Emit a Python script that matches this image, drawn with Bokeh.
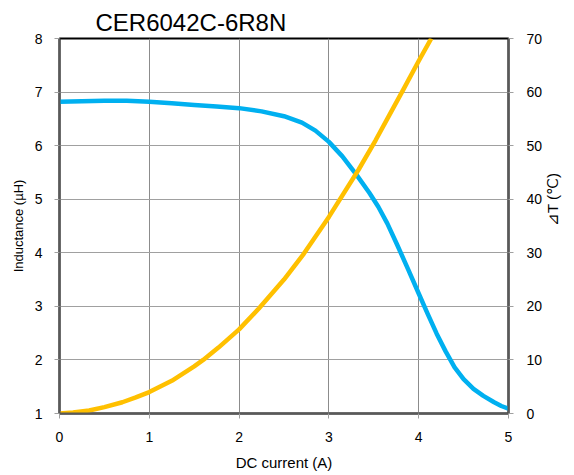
import math
from bokeh.plotting import figure
from bokeh.models import Range1d, LinearAxis, FixedTicker
from bokeh.embed import file_html
from bokeh.resources import INLINE

current_L = [0, 0.25, 0.5, 0.75, 1.0, 1.25, 1.5, 1.75, 2.0, 2.25, 2.5, 2.7, 2.85, 3.0, 3.15,
             3.31, 3.45, 3.55, 3.65, 3.76, 3.88, 4.0, 4.1, 4.2, 4.3, 4.4, 4.5, 4.61, 4.72, 4.84, 4.92, 5.0]
inductance = [6.82, 6.83, 6.84, 6.84, 6.82, 6.79, 6.76, 6.73, 6.70, 6.64, 6.55, 6.43, 6.28, 6.07, 5.80,
              5.45, 5.12, 4.86, 4.55, 4.15, 3.70, 3.24, 2.86, 2.49, 2.16, 1.86, 1.64, 1.46, 1.33, 1.21, 1.14, 1.09]

current_T = [0, 0.15, 0.33, 0.5, 0.7, 0.85, 1.0, 1.25, 1.5, 1.6, 1.77, 2.0, 2.22, 2.5, 2.72,
             3.0, 3.33, 3.52, 3.67, 3.83, 4.0, 4.14]
temp_rise = [0, 0.2, 0.56, 1.2, 2.1, 3.0, 4.0, 6.1, 8.8, 10.0, 12.3, 15.7, 19.6, 25.0, 29.8,
             36.7, 45.5, 51.0, 55.6, 60.5, 65.8, 70.0]

x_ticks = [0, 1, 2, 3, 4, 5]
left_ticks = [1, 2, 3, 4, 5, 6, 7, 8]
right_ticks = [0, 10, 20, 30, 40, 50, 60, 70]

FONT = "Liberation Sans"

p = figure(width=574, height=475, output_backend="svg", toolbar_location=None,
           x_range=Range1d(0, 5), y_range=Range1d(1, 8),
           min_border_left=59, min_border_right=66, min_border_top=38, min_border_bottom=62,
           title="CER6042C-6R8N")
p.extra_y_ranges = {"temp": Range1d(0, 70)}

p.title.text_font = FONT
p.title.text_font_size = "24px"
p.title.text_font_style = "normal"
p.title.align = "left"
p.title.offset = 36
p.title.standoff = 6
p.title.text_color = "#000000"

p.outline_line_color = "#000000"
p.outline_line_width = 2

p.xgrid.ticker = FixedTicker(ticks=x_ticks)
p.ygrid.ticker = FixedTicker(ticks=left_ticks)
p.xgrid.grid_line_color = "#8c8c8c"
p.ygrid.grid_line_color = "#a0a0a0"
p.xgrid.grid_line_width = 1
p.ygrid.grid_line_width = 1

def style(ax, label, size):
    ax.axis_label = label
    ax.axis_line_color = "#595959"
    ax.axis_line_width = 2
    ax.major_tick_line_color = "#a0a0a0"
    ax.major_tick_line_width = 1
    ax.major_tick_out = 5
    ax.major_tick_in = 0
    ax.minor_tick_line_color = None
    ax.major_label_text_font = FONT
    ax.major_label_text_font_size = "14px"
    ax.major_label_text_color = "#000000"
    ax.axis_label_text_font = FONT
    ax.axis_label_text_font_size = size
    ax.axis_label_text_font_style = "normal"
    ax.axis_label_text_color = "#000000"

xa = p.xaxis[0]
xa.ticker = FixedTicker(ticks=x_ticks)
style(xa, "DC current (A)", "15px")
xa.major_label_standoff = 13
xa.axis_label_standoff = 9

ya = p.yaxis[0]
ya.ticker = FixedTicker(ticks=left_ticks)
style(ya, "Inductance (µH)", "13px")
ya.major_label_standoff = 12
ya.axis_label_standoff = 6

ra = LinearAxis(y_range_name="temp", ticker=FixedTicker(ticks=right_ticks))
style(ra, "⊿T (℃)", "15px")
ra.major_label_standoff = 13
ra.axis_label_standoff = 7
ra.axis_label_orientation = math.pi / 2
p.add_layout(ra, "right")

p.line(current_L, inductance, line_color="#00B0F0", line_width=4.5, line_join="round")
p.line(current_T, temp_rise, line_color="#FFC000", line_width=4.5, line_join="round",
       y_range_name="temp")

open("out.html", "w").write(file_html(p, INLINE))
